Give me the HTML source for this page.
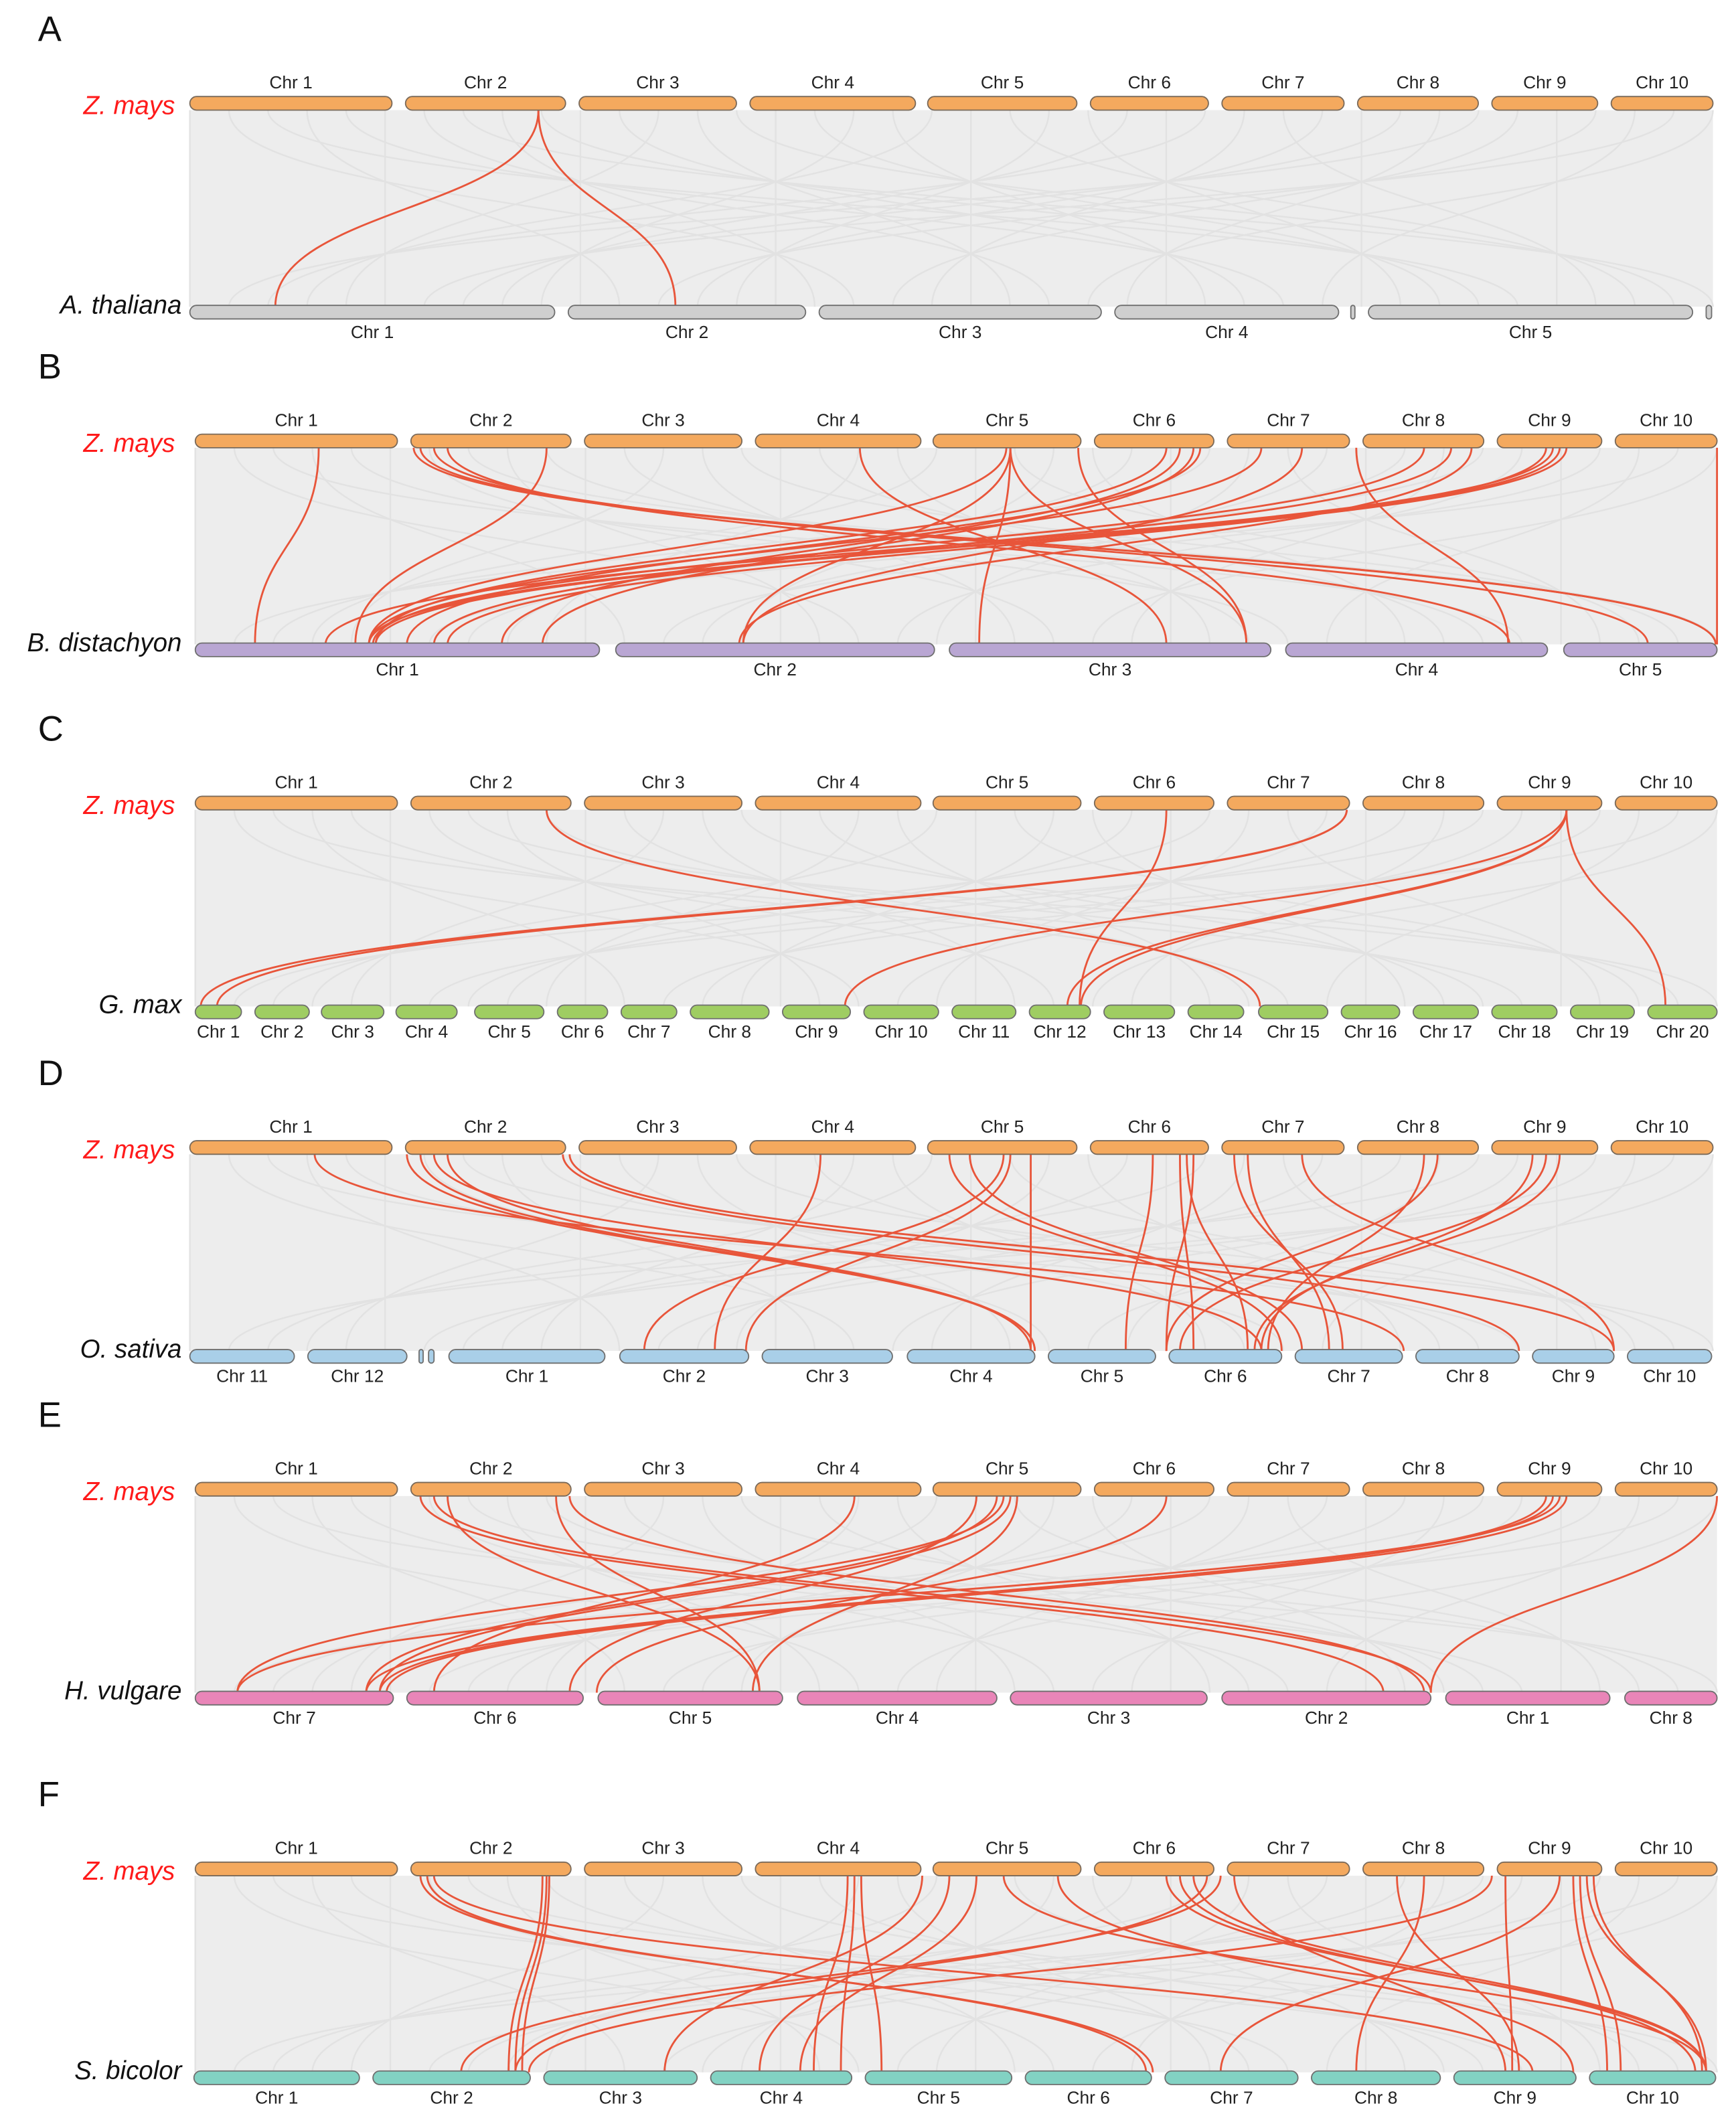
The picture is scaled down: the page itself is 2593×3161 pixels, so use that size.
<!DOCTYPE html>
<html><head><meta charset="utf-8"><style>
html,body{margin:0;padding:0;background:#fff;}
svg{display:block;}
text{font-family:"Liberation Sans",Arial,sans-serif;}
</style></head><body>
<svg id="fig" width="2593" height="3161" viewBox="0 0 1280 1560" xmlns="http://www.w3.org/2000/svg"></svg>
<script>
// ---------- data ----------
const panelLetters = ["A","B","C","D","E","F"];
const bottomSpecies = ["A. thaliana","B. distachyon","G. max","O. sativa","H. vulgare","S. bicolor"];
const topY = [76,325,592,846,1098,1378];
const bottomY = [230,479,746,1000,1252,1532];
const bottomColors = ["#cfcfcf","#b9a6d3","#9fcd62","#a9cfe8","#e985b8","#82d2c3"];

const zmNames = ["Chr 1","Chr 2","Chr 3","Chr 4","Chr 5","Chr 6","Chr 7","Chr 8","Chr 9","Chr 10"];
const zmStartA = [140,299,427,553,684,804,901,1001,1100,1188];
const zmEndA   = [289,417,543,675,794,891,991,1090,1178,1263];
const zmStartB = [144,303,431,557,688,807,905,1005,1104,1191];
const zmEndB   = [293,421,547,679,797,895,995,1094,1181,1266];
const topStarts = [zmStartA,zmStartB,zmStartB,zmStartA,zmStartB,zmStartB];
const topEnds   = [zmEndA,zmEndB,zmEndB,zmEndA,zmEndB,zmEndB];

const botNames = [
 ["Chr 1","Chr 2","Chr 3","Chr 4","","Chr 5",""],
 ["Chr 1","Chr 2","Chr 3","Chr 4","Chr 5"],
 ["Chr 1","Chr 2","Chr 3","Chr 4","Chr 5","Chr 6","Chr 7","Chr 8","Chr 9","Chr 10","Chr 11","Chr 12","Chr 13","Chr 14","Chr 15","Chr 16","Chr 17","Chr 18","Chr 19","Chr 20"],
 ["Chr 11","Chr 12","","","Chr 1","Chr 2","Chr 3","Chr 4","Chr 5","Chr 6","Chr 7","Chr 8","Chr   9","Chr 10"],
 ["Chr 7","Chr 6","Chr 5","Chr 4","Chr 3","Chr 2","Chr 1","Chr 8"],
 ["Chr 1","Chr 2","Chr 3","Chr 4","Chr 5","Chr 6","Chr 7","Chr 8","Chr 9","Chr 10"]
];
const botStarts = [
 [140,419,604,822,996,1009,1258],
 [144,454,700,948,1153],
 [144,188,237,292,350,411,458,509,577,637,702,759,814,876,928,989,1042,1100,1158,1215],
 [140,227,309,316,331,457,562,669,773,862,955,1044,1130,1200],
 [144,300,441,588,745,901,1066,1198],
 [143,275,401,524,638,756,859,967,1072,1172]
];
const botEnds = [
 [409,594,812,987,999,1248,1262],
 [442,689,937,1141,1266],
 [178,228,283,337,401,448,499,567,627,692,749,804,866,917,979,1032,1090,1148,1205,1266],
 [217,300,312,320,446,552,658,763,852,945,1034,1120,1190,1262],
 [290,430,577,735,890,1055,1187,1266],
 [265,391,514,628,746,849,957,1062,1162,1265]
];

// red links: top x position, bottom x position
const redTop = [
 [397,397],
 [235,305,310,320,330,403,634,745,745,745,742,795,860,870,880,885,930,960,1000,1050,1070,1085,1150,1155,1145,1140,1266],
 [403,860,993,993,1155,1155,1155,1155],
 [232,300,310,320,330,415,420,605,700,715,740,745,760,850,870,875,880,910,920,960,1050,1060,1130,1140,1150],
 [310,320,330,410,420,630,740,745,735,720,750,1150,1145,1140,1155,1266,860],
 [310,315,320,400,403,405,630,635,625,680,700,720,740,780,860,870,880,890,900,910,1030,1050,1100,1110,1150,1160,1165,1170,1175]
];
const redBot = [
 [203,498],
 [188,1265,1265,1215,1113,262,860,548,722,919,272,919,277,370,400,300,272,548,1112,275,320,545,272,277,240,330,1266],
 [929,796,148,160,623,797,787,1228],
 [1035,763,763,930,760,1120,1190,527,945,960,475,550,760,830,880,920,860,990,980,1190,935,860,930,870,925],
 [1020,1055,560,560,1050,320,175,280,270,420,555,175,270,280,285,1055,440],
 [850,845,1130,375,380,385,620,650,600,490,560,590,1258,1160,1258,1250,1258,380,340,1110,1120,1000,390,1115,900,1185,1195,1258,1255]
];

// ---------- drawing ----------
const NS="http://www.w3.org/2000/svg";
const svg=document.getElementById('fig');
function mk(tag,attrs,parent){const e=document.createElementNS(NS,tag);for(const k in attrs)e.setAttribute(k,attrs[k]);(parent||svg).appendChild(e);return e;}
function curve(x1,y1,x2,y2){const m=(y1+y2)/2;return `M${x1},${y1} C${x1},${m} ${x2},${m} ${x2},${y2}`;}

for(let p=0;p<6;p++){
  const g=mk('g',{});
  
  
  const yt=topY[p]+5, yb=bottomY[p]-4;
  const ts=topStarts[p], te=topEnds[p], bs=botStarts[p], be=botEnds[p];
  // gray background band
  const band=mk('rect',{x:ts[0],y:yt,width:te[te.length-1]-ts[0],height:yb-yt,fill:'#ededed'},g);
  
  
  // gray link texture
  const gl=mk('g',{stroke:'#e2e2e2','stroke-width':1.2,fill:'none'},g);
  
  
  const lo=ts[0], hi=te[te.length-1];
  for(let i=0;i<40;i++){
    const a=lo+(hi-lo)*i/39, b=lo+(hi-lo)*((i*17)%40)/39;
    mk('path',{d:curve(a,yt,b,yb)},gl);
  }
  // red links
  for(let i=0;i<redTop[p].length;i++){
    const r=mk('path',{d:curve(redTop[p][i],yt,redBot[p][i],yb),stroke:'#e8553a','stroke-width':1.4,fill:'none'},g);
    
    
  }
  // panel letter
  const L=mk('text',{x:28,y:topY[p]-46,'font-size':26,fill:'#111'},g);
  L.textContent=panelLetters[p];
  
  
  // species labels
  const sz=mk('text',{x:129,y:topY[p]+8,'font-size':19,'font-style':'italic',fill:'#ff1a1a','text-anchor':'end'},g);
  sz.textContent='Z. mays';
  
  
  const sb=mk('text',{x:134,y:bottomY[p]+1,'font-size':19,'font-style':'italic',fill:'#111','text-anchor':'end'},g);
  sb.textContent=bottomSpecies[p];
  
  
  // top chromosomes
  for(let i=0;i<ts.length;i++){
    const c=mk('rect',{x:ts[i],y:topY[p]-5,width:te[i]-ts[i],height:10,rx:5,fill:'#f4a95e',stroke:'#7a6a5a','stroke-width':0.9},g);
    
    
    const t=mk('text',{x:(ts[i]+te[i])/2,y:topY[p]-11,'font-size':13,fill:'#222','text-anchor':'middle'},g);
    t.textContent=zmNames[i];
    
    
  }
  // bottom chromosomes
  for(let i=0;i<bs.length;i++){
    const c=mk('rect',{x:bs[i],y:bottomY[p]-5,width:be[i]-bs[i],height:10,rx:Math.min(5,(be[i]-bs[i])/2),fill:bottomColors[p],stroke:'#6f6f6f','stroke-width':0.9},g);
    
    
    if(botNames[p][i]){
      const t=mk('text',{x:(bs[i]+be[i])/2,y:bottomY[p]+19,'font-size':13,fill:'#222','text-anchor':'middle','xml:space':'preserve'},g);
      t.textContent=botNames[p][i];
      
      
    }
  }
}
</script>
</body></html>
